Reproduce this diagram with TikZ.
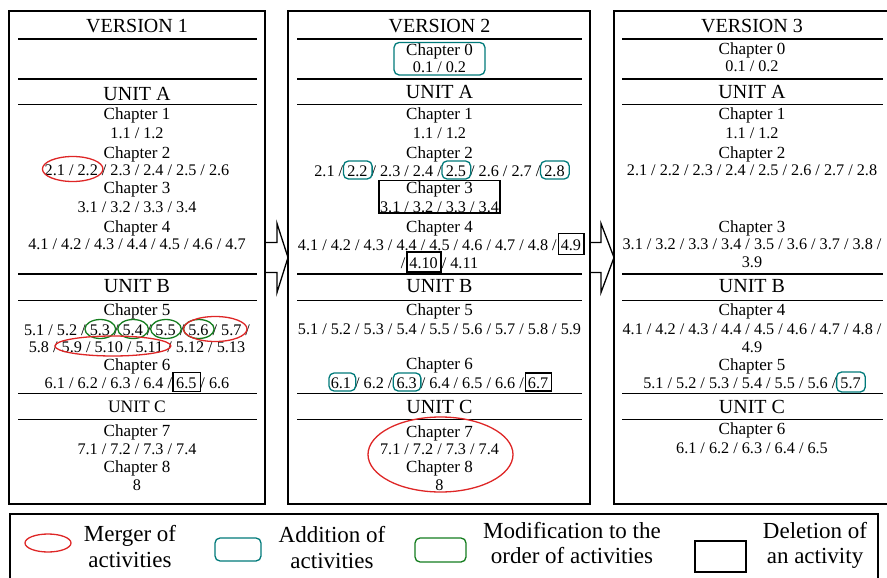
\documentclass[tikz,border=0pt]{standalone}
\usepackage{fontspec}
\setmainfont{Liberation Serif}
\usetikzlibrary{shapes.geometric,fit,calc}

\definecolor{mergered}{RGB}{222,38,38}
\definecolor{addteal}{RGB}{0,122,122}
\definecolor{ordgreen}{RGB}{20,125,30}

\newcommand\numfont{\fontsize{16.2}{19}\selectfont}
\newcommand\chapfont{\fontsize{17}{20}\selectfont}
\newcommand\headfont{\fontsize{20}{24}\selectfont}
\newcommand\smallheadfont{\fontsize{17.5}{21}\selectfont}
\newcommand\legfont{\fontsize{23}{26}\selectfont}
% one interword space of the current font
\newcommand\gapsp{\kern\fontdimen2\font}

% \markspan{name}{style}{line node}{text before}{marked text}{side pad}{height}
% The text before and the marked text are set invisibly on the line to find
% where the marked text sits; the marker is drawn round it.
\newcommand\markspan[7]{%
  \node[nm, anchor=base west] (#1p) at (#3.base west) {\phantom{#4}};
  \node[nm, anchor=base west] (#1i) at (#1p.base east) {\phantom{#5}};
  \path let \p1=(#1i.west), \p2=(#1i.east) in
    node[#2, minimum width=\x2-\x1+2*#6, minimum height=#7] (#1)
      at ([yshift=6pt]#1i.base) {};}

\tikzset{
  colbox/.style={draw, rectangle, line width=1.6pt, outer sep=0pt, inner sep=0pt},
  rule/.style={line width=1.6pt},
  hd/.style={font=\headfont, inner sep=0pt, anchor=base},
  ch/.style={font=\chapfont, inner sep=0pt, anchor=base},
  nm/.style={font=\numfont, inner sep=0pt, anchor=base},
  lg/.style={font=\legfont, inner sep=0pt, anchor=base},
  merge/.style={draw=mergered, ellipse, line width=1.3pt, inner sep=0pt},
  addit/.style={draw=addteal, rectangle, rounded corners=5pt, line width=1.3pt, inner sep=0pt},
  order/.style={draw=ordgreen, ellipse, line width=1.3pt, inner sep=0pt},
  dele/.style={draw=black, rectangle, line width=1.3pt, inner sep=0pt},
  blockarrow/.style={line width=1.3pt, line join=miter},
}

\begin{document}
\begin{tikzpicture}[x=1pt, y=-1pt]
\useasboundingbox (0,0) rectangle (887,578);
\clip (0,0) rectangle (887,578);

% column frames
\node[colbox, minimum width=256, minimum height=493] (v1) at (137,257.5) {};
\node[colbox, minimum width=302, minimum height=493] (v2) at (439,257.5) {};
\node[colbox, minimum width=281, minimum height=493] (v3) at (754.5,257.5) {};

% section rules
\foreach \yy in {39,79,104.5,274,300.5,393.5,419.5} {
  \draw[rule] (18,\yy) -- (257,\yy);
  \draw[rule] (297,\yy) -- (582,\yy);
  \draw[rule] (622,\yy) -- (883,\yy);
}

% block arrows between versions
\draw[blockarrow] ([yshift=15pt]v1.east) -- ++(12,0) -- ++(0,-19) -- (v2.west)
  -- ++(-11,35) -- ++(0,-20) -- ++(-12,0);
\draw[blockarrow] ([yshift=15pt]v2.east) -- ++(11,0) -- ++(0,-19) -- (v3.west)
  -- ++(-13,35) -- ++(0,-20) -- ++(-11,0);

% ---------------- version 1 ----------------
\node[hd] (c1v) at (137,33) {VERSION 1};
\node[hd] (c1ua) at (137,100) {UNIT A};
\node[ch] (c1h1) at (137,119) {Chapter 1};
\node[nm] (c1n1) at (137,139) {1.1 / 1.2};
\node[ch] (c1h2) at (137,158) {Chapter 2};
\node[nm] (c1n2) at (137,175) {2.1 / 2.2 / 2.3 / 2.4 / 2.5 / 2.6};
\node[ch] (c1h3) at (137,193) {Chapter 3};
\node[nm] (c1n3) at (137,212) {3.1 / 3.2 / 3.3 / 3.4};
\node[ch] (c1h4) at (137,232) {Chapter 4};
\node[nm] (c1n4) at (137,249) {4.1 / 4.2 / 4.3 / 4.4 / 4.5 / 4.6 / 4.7};
\node[hd] (c1ub) at (137,292) {UNIT B};
\node[ch] (c1h5) at (137,315) {Chapter 5};
\node[nm] (c1n5a) at (137,335) {5.1 / 5.2 / 5.3 / 5.4 / 5.5 / 5.6 / 5.7 /};
\node[nm] (c1n5b) at (137,352) {5.8 / 5.9 / 5.10 / 5.11 / 5.12 / 5.13};
\node[ch] (c1h6) at (137,370) {Chapter 6};
\node[nm] (c1n6) at (137,388) {6.1 / 6.2 / 6.3 / 6.4 / 6.5 / 6.6};
\node[hd, font=\smallheadfont] (c1uc) at (137,412) {UNIT C};
\node[ch] (c1h7) at (137,436) {Chapter 7};
\node[nm] (c1n7) at (137,454) {7.1 / 7.2 / 7.3 / 7.4};
\node[ch] (c1h8) at (137,472) {Chapter 8};
\node[nm] (c1n8) at (137,490) {8};

\markspan{m1a}{merge}{c1n2}{}{2.1 / 2.2}{3.5}{25}
\markspan{o1a}{order}{c1n5a}{5.1 / 5.2 /\gapsp}{5.3}{5}{19}
\markspan{o1b}{order}{c1n5a}{5.1 / 5.2 / 5.3 /\gapsp}{5.4}{5}{19}
\markspan{o1c}{order}{c1n5a}{5.1 / 5.2 / 5.3 / 5.4 /\gapsp}{5.5}{5}{19}
\markspan{o1d}{order}{c1n5a}{5.1 / 5.2 / 5.3 / 5.4 / 5.5 /\gapsp}{5.6}{5}{19}
\markspan{m1b}{merge}{c1n5a}{5.1 / 5.2 / 5.3 / 5.4 / 5.5 /\gapsp}{5.6 / 5.7}{5}{25}
\markspan{m1c}{merge}{c1n5b}{5.8 /\gapsp}{5.9 / 5.10 / 5.11}{7}{20}
\markspan{d1a}{dele}{c1n6}{6.1 / 6.2 / 6.3 / 6.4 /\gapsp}{6.5}{3.5}{19}

% ---------------- version 2 ----------------
\node[hd] (c2v) at (439.5,33) {VERSION 2};
\node[ch] (c2h0) at (439.5,56) {Chapter 0};
\node[nm] (c2n0) at (439.5,73) {0.1 / 0.2};
\node[hd] (c2ua) at (439.5,99) {UNIT A};
\node[ch] (c2h1) at (439.5,119) {Chapter 1};
\node[nm] (c2n1) at (439.5,139) {1.1 / 1.2};
\node[ch] (c2h2) at (439.5,158) {Chapter 2};
\node[nm] (c2n2) at (439.5,176) {2.1 / 2.2 / 2.3 / 2.4 / 2.5 / 2.6 / 2.7 / 2.8};
\node[ch] (c2h3) at (439.5,193) {Chapter 3};
\node[nm] (c2n3) at (439.5,212) {3.1 / 3.2 / 3.3 / 3.4};
\node[ch] (c2h4) at (439.5,232) {Chapter 4};
\node[nm] (c2n4a) at (439.5,250) {4.1 / 4.2 / 4.3 / 4.4 / 4.5 / 4.6 / 4.7 / 4.8 / 4.9};
\node[nm] (c2n4b) at (439.5,268) {/ 4.10 / 4.11};
\node[hd] (c2ub) at (439.5,292) {UNIT B};
\node[ch] (c2h5) at (439.5,315) {Chapter 5};
\node[nm] (c2n5) at (439.5,334) {5.1 / 5.2 / 5.3 / 5.4 / 5.5 / 5.6 / 5.7 / 5.8 / 5.9};
\node[ch] (c2h6) at (439.5,369) {Chapter 6};
\node[nm] (c2n6) at (439.5,388) {6.1 / 6.2 / 6.3 / 6.4 / 6.5 / 6.6 / 6.7};
\node[hd] (c2uc) at (439.5,413) {UNIT C};
\node[ch] (c2h7) at (439.5,437) {Chapter 7};
\node[nm] (c2n7) at (439.5,454) {7.1 / 7.2 / 7.3 / 7.4};
\node[ch] (c2h8) at (439.5,472) {Chapter 8};
\node[nm] (c2n8) at (439.5,490) {8};

\node[addit, fit=(c2h0)(c2n0), inner xsep=12pt, inner ysep=1.5pt] (a2a) {};
\markspan{a2b}{addit}{c2n2}{2.1 /\gapsp}{2.2}{4}{18}
\markspan{a2c}{addit}{c2n2}{2.1 / 2.2 / 2.3 / 2.4 /\gapsp}{2.5}{4}{18}
\markspan{a2d}{addit}{c2n2}{2.1 / 2.2 / 2.3 / 2.4 / 2.5 / 2.6 / 2.7 /\gapsp}{2.8}{4}{18}
\node[dele, fit=(c2h3)(c2n3), inner xsep=1pt, inner ysep=0.5pt] (d2a) {};
\markspan{d2b}{dele}{c2n4a}{4.1 / 4.2 / 4.3 / 4.4 / 4.5 / 4.6 / 4.7 / 4.8 /\gapsp}{4.9}{2.5}{21}
\markspan{d2c}{dele}{c2n4b}{/\gapsp}{4.10}{2.5}{20}
\markspan{a2e}{addit}{c2n6}{}{6.1}{3}{18}
\markspan{a2f}{addit}{c2n6}{6.1 / 6.2 /\gapsp}{6.3}{3.5}{18}
\markspan{d2d}{dele}{c2n6}{6.1 / 6.2 / 6.3 / 6.4 / 6.5 / 6.6 /\gapsp}{6.7}{2.5}{18}
\node[merge, minimum width=145, minimum height=75] (m2a) at (440.5,454.5) {};

% ---------------- version 3 ----------------
\node[hd] (c3v) at (752,33) {VERSION 3};
\node[ch] (c3h0) at (752,55) {Chapter 0};
\node[nm] (c3n0) at (752,72) {0.1 / 0.2};
\node[hd] (c3ua) at (752,99) {UNIT A};
\node[ch] (c3h1) at (752,120) {Chapter 1};
\node[nm] (c3n1) at (752,139) {1.1 / 1.2};
\node[ch] (c3h2) at (752,158) {Chapter 2};
\node[nm] (c3n2) at (752,175) {2.1 / 2.2 / 2.3 / 2.4 / 2.5 / 2.6 / 2.7 / 2.8};
\node[ch] (c3h3) at (752,232) {Chapter 3};
\node[nm] (c3n3a) at (752,249) {3.1 / 3.2 / 3.3 / 3.4 / 3.5 / 3.6 / 3.7 / 3.8 /};
\node[nm] (c3n3b) at (752,267) {3.9};
\node[hd] (c3ub) at (752,292) {UNIT B};
\node[ch] (c3h4) at (752,315) {Chapter 4};
\node[nm] (c3n4a) at (752,334) {4.1 / 4.2 / 4.3 / 4.4 / 4.5 / 4.6 / 4.7 / 4.8 /};
\node[nm] (c3n4b) at (752,352) {4.9};
\node[ch] (c3h5) at (752,370) {Chapter 5};
\node[nm] (c3n5) at (752,388) {5.1 / 5.2 / 5.3 / 5.4 / 5.5 / 5.6 / 5.7};
\node[hd] (c3uc) at (752,413) {UNIT C};
\node[ch] (c3h6) at (752,434) {Chapter 6};
\node[nm] (c3n6) at (752,453) {6.1 / 6.2 / 6.3 / 6.4 / 6.5};

\markspan{a3a}{addit}{c3n5}{5.1 / 5.2 / 5.3 / 5.4 / 5.5 / 5.6 /\gapsp}{5.7}{4}{20}

% ---------------- legend ----------------
\node[colbox, minimum width=868, minimum height=76] (lgd) at (444,552) {};

\node[merge, minimum width=46, minimum height=18] (k1) at (48,543) {};
\node[lg] (t1a) at (130,541) {Merger of};
\node[lg] (t1b) at (130,567) {activities};

\node[addit, minimum width=46, minimum height=23] (k2) at (238,549.5) {};
\node[lg] (t2a) at (332,542) {Addition of};
\node[lg] (t2b) at (332,568) {activities};

\node[draw=ordgreen, rectangle, rounded corners=5pt, line width=1.3pt,
      minimum width=51, minimum height=24] (k3) at (440.5,550) {};
\node[lg] (t3a) at (572,538) {Modification to the};
\node[lg] (t3b) at (572,563) {order of activities};

\node[dele, minimum width=51, minimum height=31] (k4) at (720.5,556.5) {};
\node[lg] (t4a) at (815,538) {Deletion of};
\node[lg] (t4b) at (815,563) {an activity};
\end{tikzpicture}
\end{document}
